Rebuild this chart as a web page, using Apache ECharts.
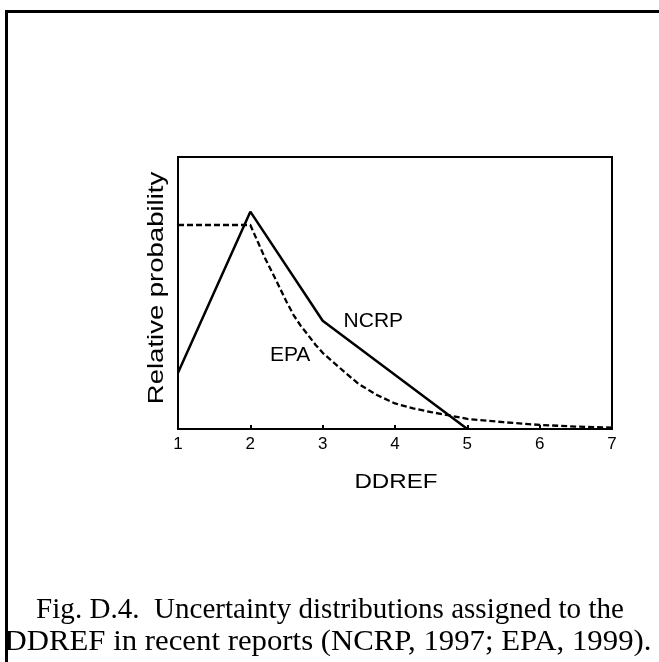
<!DOCTYPE html>
<html>
<head>
<meta charset="utf-8">
<script src="https://cdn.jsdelivr.net/npm/echarts@6/dist/echarts.min.js"></script>
<style>
html,body{margin:0;padding:0;background:#fff;}
#chart{width:659px;height:662px;}
</style>
</head>
<body>
<div id="chart"></div>
<script>
// DDREF values (x) and relative probabilities
const ncrpX = [1, 2, 3, 5];
const ncrpY = [0.207, 0.799, 0.398, 0.0];
const epaX = [1, 2, 2.1, 2.2, 2.35, 2.5, 2.6, 2.7, 2.8, 2.9, 3.0, 3.15, 3.3, 3.5, 3.75, 4.0, 4.25, 4.5, 4.75, 5.0, 5.5, 6.0, 6.5, 7.0];
const epaY = [0.75, 0.75, 0.69, 0.63, 0.55, 0.468, 0.418, 0.378, 0.345, 0.31, 0.28, 0.245, 0.21, 0.165, 0.125, 0.094, 0.076, 0.062, 0.05, 0.037, 0.025, 0.015, 0.009, 0.005];
const xTicks = [1, 2, 3, 4, 5, 6, 7];
const xTitle = 'DDREF';
const yTitle = 'Relative probability';
const captionLines = ['Fig. D.4.  Uncertainty distributions assigned to the', 'DDREF in recent reports (NCRP, 1997; EPA, 1999).'];
const seriesLabels = [{name: 'NCRP', x: 3.70, y: 0.397}, {name: 'EPA', x: 2.55, y: 0.272}];

const chart = echarts.init(document.getElementById('chart'), null, {renderer: 'canvas'});
const sans = 'Liberation Sans, Arial, sans-serif';
const serif = 'Liberation Serif, Times New Roman, serif';

const option = {
  animation: false,
  backgroundColor: '#fff',
  grid: {left: 178, top: 157, width: 434, height: 272, show: true, borderColor: '#000', borderWidth: 2, backgroundColor: 'transparent'},
  xAxis: {
    type: 'value', min: xTicks[0], max: xTicks[xTicks.length - 1], interval: 1,
    axisLine: {show: true, lineStyle: {color: '#000', width: 2}},
    axisTick: {show: true, inside: true, length: 4, lineStyle: {color: '#000', width: 2}},
    axisLabel: {color: '#000', fontSize: 17, fontFamily: sans, margin: 7},
    splitLine: {show: false}
  },
  yAxis: {
    type: 'value', min: 0, max: 1,
    axisLine: {show: true, lineStyle: {color: '#000', width: 2}},
    axisTick: {show: false}, axisLabel: {show: false}, splitLine: {show: false}
  },
  series: [
    {
      name: 'NCRP', type: 'line', showSymbol: false, symbol: 'none',
      data: ncrpX.map((x, i) => [x, ncrpY[i]]),
      lineStyle: {color: '#000', width: 2.5},
      markPoint: {
        symbol: 'circle', symbolSize: 0,
        label: {show: true, position: 'inside', formatter: p => p.name, color: '#000', fontSize: 21, fontFamily: sans},
        data: [{name: seriesLabels[0].name, coord: [seriesLabels[0].x, seriesLabels[0].y]}]
      }
    },
    {
      name: 'EPA', type: 'line', showSymbol: false, symbol: 'none',
      data: epaX.map((x, i) => [x, epaY[i]]),
      lineStyle: {color: '#000', width: 2.3, type: [6, 3]},
      markPoint: {
        symbol: 'circle', symbolSize: 0,
        label: {show: true, position: 'inside', formatter: p => p.name, color: '#000', fontSize: 21, fontFamily: sans},
        data: [{name: seriesLabels[1].name, coord: [seriesLabels[1].x, seriesLabels[1].y]}]
      }
    }
  ],
  graphic: [
    {type: 'rect', shape: {x: 6.5, y: 11.5, width: 700, height: 700}, style: {fill: 'none', stroke: '#000', lineWidth: 3}, silent: true, z: -1},
    {type: 'text', x: 156.5, y: 288, rotation: Math.PI / 2, scaleX: 1.25,
      style: {text: yTitle, fontSize: 22, fontFamily: sans, fill: '#000', textAlign: 'center', textVerticalAlign: 'middle'}},
    {type: 'text', x: 396, y: 482, scaleX: 1.15,
      style: {text: xTitle, fontSize: 21, fontFamily: sans, fill: '#000', textAlign: 'center', textVerticalAlign: 'middle'}},
    {type: 'text', x: 330, y: 611, scaleX: 1.02,
      style: {text: captionLines[0], fontSize: 28.5, fontFamily: serif, fill: '#000', textAlign: 'center', textVerticalAlign: 'middle'}},
    {type: 'text', x: 328, y: 643, scaleX: 1.08,
      style: {text: captionLines[1], fontSize: 28.5, fontFamily: serif, fill: '#000', textAlign: 'center', textVerticalAlign: 'middle'}}
  ]
};
chart.setOption(option);
</script>
</body>
</html>
